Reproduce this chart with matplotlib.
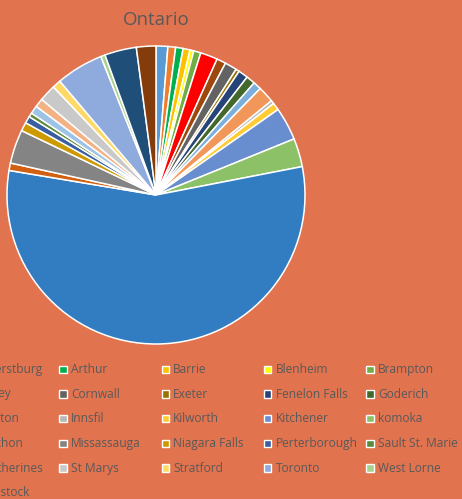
import matplotlib
matplotlib.use("Agg")
import matplotlib.pyplot as plt
from matplotlib.patches import Rectangle

plt.rcParams['font.family'] = ['Open Sans', 'DejaVu Sans']

towns = ["Ajax", "Amherstburg", "Arthur", "Barrie", "Blenheim", "Brampton",
         "Brantford", "Chesley", "Cornwall", "Exeter", "Fenelon Falls", "Goderich",
         "Guelph", "Hamilton", "Innsfil", "Kilworth", "Kitchener", "komoka",
         "London", "Marathon", "Missassauga", "Niagara Falls", "Perterborough", "Sault St. Marie",
         "Simcoe", "St Catherines", "St Marys", "Stratford", "Toronto", "West Lorne",
         "Windsor", "Woodstock"]

shares = [4.6, 3.0, 2.9, 2.7, 1.5, 2.8,
          6.7, 3.6, 4.7, 1.4, 3.8, 3.5,
          3.2, 6.4, 1.3, 2.9, 12.9, 11.1,
          200.5, 2.9, 13.2, 3.4, 2.7, 1.6,
          3.2, 3.4, 6.6, 3.3, 18.5, 1.7,
          12.4, 7.6]

colors = ["#5B9BD5", "#ED7D31", "#00B050", "#FFC000", "#FFFF00", "#70AD47",
          "#FF0000", "#9E480E", "#636363", "#997300", "#264478", "#43682B",
          "#7CAFDD", "#F1975A", "#B7B7B7", "#FFCD33", "#698ED0", "#8CC168",
          "#327DC2", "#D26012", "#848484", "#CC9A00", "#3A5FA0", "#5A8A39",
          "#9DC3E6", "#F4B183", "#C9C9C9", "#FFD966", "#8FAADC", "#A9D18E",
          "#1F4E79", "#843C0C"]

title = "Ontario"
BG = "#E2734F"
TXT = "#595959"

W, H = 462, 499
fig = plt.figure(figsize=(W / 100, H / 100), dpi=100, facecolor=BG)

# pie
cx, cy, R = 156, 195, 149
ax = fig.add_axes([(cx - 150) / W, (H - cy - 150) / H, 300 / W, 300 / H])
ax.pie(shares, colors=colors, startangle=90, counterclock=False, radius=1,
       wedgeprops=dict(edgecolor="white", linewidth=1.1))
ax.set_aspect("equal")
ax.set_xlim(-150 / R, 150 / R)
ax.set_ylim(-150 / R, 150 / R)
ax.axis("off")

# title
fig.text(156.7 / W, 1 - 20 / H, title, ha="center", va="center",
         fontsize=13.5, color=TXT)

# legend (6 columns, first column falls outside the canvas as in the original)
lax = fig.add_axes([0, 0, 1, 1])
lax.set_xlim(0, W)
lax.set_ylim(H, 0)
lax.axis("off")
lax.patch.set_alpha(0)

ncol = 6
col_x0, col_dx = -146.3, 102.3
row_y0, row_dy = 369.3, 24.7
for i, (name, c) in enumerate(zip(towns, colors)):
    r, k = divmod(i, ncol)
    x = col_x0 + k * col_dx
    y = row_y0 + r * row_dy
    lax.add_patch(Rectangle((x + 1.0, y - 3.7), 7.4, 7.4, facecolor=c,
                            edgecolor="white", linewidth=1.0))
    lax.text(x + 12.7, y, name, ha="left", va="center", fontsize=8.6, color=TXT)

fig.savefig("out.png", dpi=100, facecolor=BG)
